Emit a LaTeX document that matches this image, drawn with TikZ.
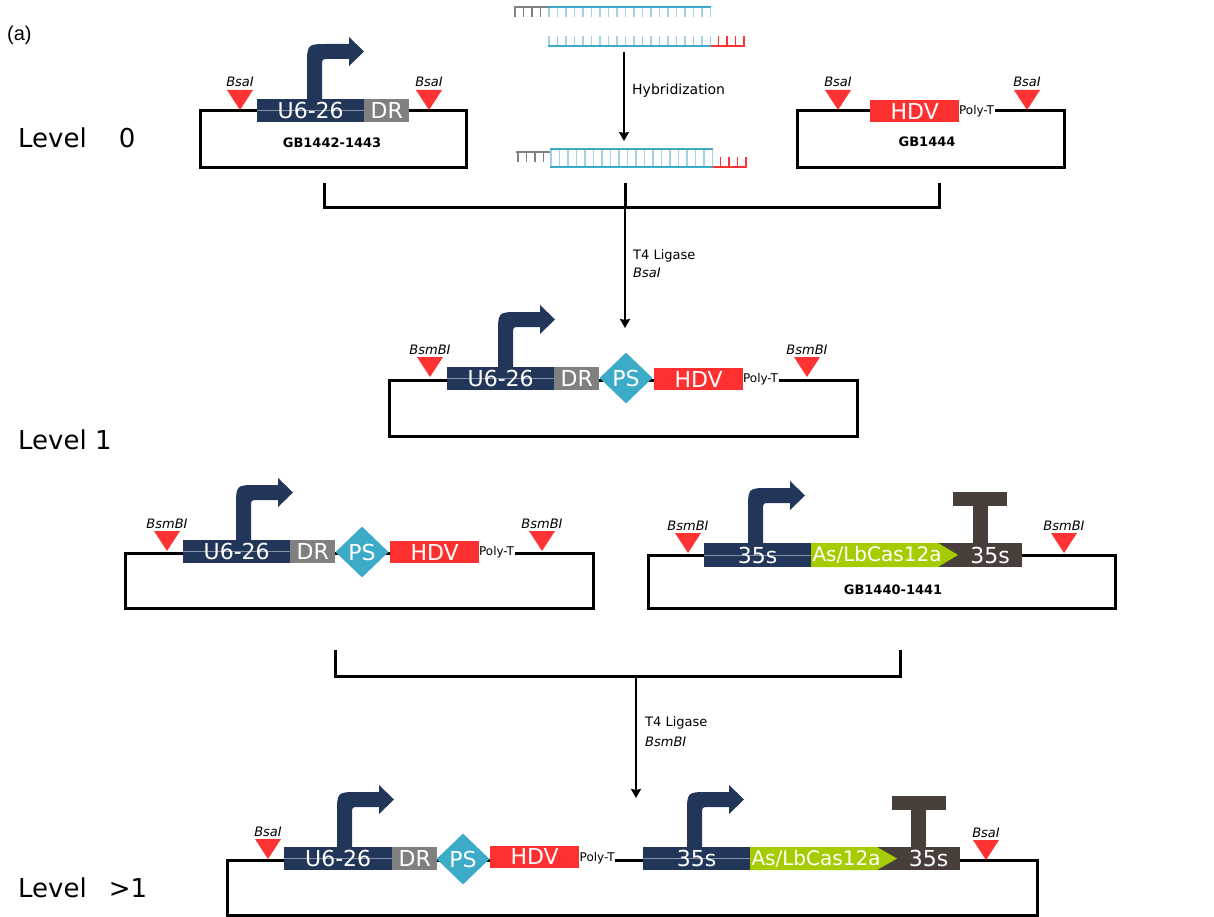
\documentclass[tikz,border=0pt]{standalone}
\usepackage{fontspec}
\setmainfont{DejaVu Sans}
\newfontfamily\arialfont{Liberation Sans}
\usetikzlibrary{shapes.geometric,arrows.meta}
\definecolor{navy}{RGB}{33,54,89}
\definecolor{drgrey}{RGB}{128,128,128}
\definecolor{hdvred}{RGB}{255,48,48}
\definecolor{cutred}{RGB}{255,51,51}
\definecolor{psteal}{RGB}{59,171,199}
\definecolor{cdsgreen}{RGB}{166,204,0}
\definecolor{termbrown}{RGB}{72,63,58}
\definecolor{dnateal}{RGB}{59,171,199}
\definecolor{dnalight}{RGB}{160,212,228}
% bent promoter arrow: stem left x, block top y
\newcommand{\promoter}[2]{%
  \fill[navy] (#1,#2) -- (#1,#2-33) .. controls (#1,#2-55) .. (#1+21,#2-55)
    -- (#1+42,#2-55) -- (#1+42,#2-62) -- (#1+57,#2-47.5) -- (#1+42,#2-33)
    -- (#1+42,#2-40) -- (#1+22,#2-40) .. controls (#1+15,#2-40) .. (#1+15,#2-33)
    -- (#1+15,#2) -- cycle;}
% terminator: centre x, block top y
\newcommand{\termin}[2]{%
  \fill[termbrown] (#1-27,#2-51) rectangle (#1+27,#2-37);
  \fill[termbrown] (#1-7.5,#2-37.5) rectangle (#1+7.5,#2);}
% restriction site: name, x, tip y, enzyme
\newcommand{\cutsite}[4]{%
  \fill[cutred] (#2-13,#3-20) -- (#2+13,#3-20) -- (#2,#3) -- cycle;
  \node[sitelbl] (#1) at (#2,#3-23) {#4};}
\begin{document}
\begin{tikzpicture}[x=1pt, y=-1pt,
    every node/.style={inner sep=0pt},
    blk/.style={anchor=west, text=white, minimum height=23, font=\fontsize{22}{24}\selectfont},
    u6/.style={blk, fill=navy, minimum width=107,
      path picture={\draw[navy!55!white, line width=0.6] (path picture bounding box.west) -- (path picture bounding box.east);}},
    dr/.style={blk, fill=drgrey, minimum width=45},
    hdv/.style={blk, fill=hdvred, minimum width=89, minimum height=22},
    ps/.style={shape=diamond, fill=psteal, text=white, minimum width=53, minimum height=51, font=\fontsize{22}{24}\selectfont},
    cds/.style={text=white, font=\fontsize{20}{22}\selectfont},
    polyt/.style={anchor=west, fill=white, inner sep=0.5pt, xshift=-1pt, font=\fontsize{12}{14}\selectfont},
    sitelbl/.style={anchor=base, font=\fontsize{13}{15}\selectfont\itshape},
    gb/.style={font=\fontsize{13}{15}\selectfont\bfseries},
    lvl/.style={anchor=west, font=\fontsize{26}{30}\selectfont},
    note/.style={anchor=west, font=\fontsize{13}{15}\selectfont},
    vec/.style={line width=3},
    brk/.style={line width=3},
    flow/.style={line width=1.9, -{Stealth[length=9pt,width=10pt,inset=1pt]}},
    dna/.style={line width=1.7},
    rung/.style={line width=1.1}]
  \useasboundingbox (0,0) rectangle (1214,917);

  \node[anchor=west, font=\arialfont\fontsize{20}{22}\selectfont] (tag) at (7,35) {(a)};
  \node[lvl] (lv0) at (18,138) {Level\hspace{32pt}0};
  \node[lvl] (lv1) at (18,440) {Level 1};
  \node[lvl] (lv2) at (18,888) {Level\hspace{22pt}>1};

  % oligos
  \draw[dna, drgrey] (514,7) -- (548,7);
  \foreach \x in {515,523.5,532,540.5} \draw[rung, drgrey] (\x,7) -- ++(0,10);
  \foreach \i in {0,...,19} \draw[rung, dnalight] ({549+8.5*\i},7) -- ++(0,10);
  \draw[dna, dnateal] (548,7) -- (711,7);
  \foreach \i in {0,...,19} \draw[rung, dnalight] ({549+8.5*\i},46) -- ++(0,-10);
  \draw[dna, dnateal] (548,46) -- (711,46);
  \foreach \x in {718.5,727,735.5,744} \draw[rung, cutred] (\x,46) -- ++(0,-10);
  \draw[dna, cutred] (711,46) -- (745,46);
  % hybridized
  \draw[dna, drgrey] (516,152) -- (550,152);
  \foreach \x in {518,526.5,535,543.5} \draw[rung, drgrey] (\x,152) -- ++(0,10);
  \foreach \i in {0,...,19} \draw[rung, dnalight] ({551+8.5*\i},149) -- ++(0,18);
  \draw[dna, dnateal] (550,149) -- (713,149);
  \draw[dna, dnateal] (550,167) -- (713,167);
  \foreach \x in {720.5,729,737.5,746} \draw[rung, cutred] (\x,167) -- ++(0,-10);
  \draw[dna, cutred] (713,167) -- (747,167);
  \coordinate (hyb1) at (624,52);
  \coordinate (hyb2) at (624,141);
  \draw[flow] (hyb1) -- (hyb2);
  \node[note, font=\fontsize{14}{16}\selectfont] (hyb) at (632,91) {Hybridization};

  % level 0, GB1442-1443
  \draw[vec] (200,111) rectangle (466,168);
  \promoter{307}{99}
  \node[u6] (u6a) at (257,110.5) {U6-26};
  \node[dr] (dra) at (364,110.5) {DR};
  \cutsite{bsa1}{240}{110}{BsaI}
  \cutsite{bsa2}{429}{110}{BsaI}
  \node[gb] (gba) at (332,143) {GB1442-1443};

  % level 0, GB1444
  \draw[vec] (797,111) rectangle (1064,168);
  \node[hdv] (hdva) at (870,111) {HDV};
  \node[polyt] (pta) at (hdva.east) {Poly-T};
  \cutsite{bsa3}{838}{110}{BsaI}
  \cutsite{bsa4}{1027}{110}{BsaI}
  \node[gb] (gbb) at (927,142) {GB1444};

  % first assembly
  \coordinate (ka) at (324,183);
  \coordinate (kb) at (939,183);
  \coordinate (kc) at (625,183);
  \coordinate (kd) at (625,208);
  \coordinate (ke) at (625,328);
  \draw[brk] (ka) |- (kb |- kd) -- (kb);
  \draw[brk] (kc) -- (kd);
  \draw[flow] (kd) -- (ke);
  \node[note] (liga) at (633,256) {T4 Ligase};
  \node[note, font=\fontsize{13}{15}\selectfont\itshape] (enza) at (633,273) {BsaI};

  % level 1, guide
  \draw[vec] (389,380) rectangle (857,436);
  \promoter{498}{367}
  \node[u6] (u6b) at (447,378.5) {U6-26};
  \node[dr] (drb) at (554,378.5) {DR};
  \node[ps] (psb) at (626,378) {PS};
  \node[hdv] (hdvb) at (654,379) {HDV};
  \node[polyt] (ptb) at (hdvb.east) {Poly-T};
  \cutsite{bsm1}{430}{377}{BsmBI}
  \cutsite{bsm2}{807}{377}{BsmBI}

  % level 1, guide copy
  \draw[vec] (125,553) rectangle (593,608);
  \promoter{236}{540}
  \node[u6] (u6c) at (183,551.5) {U6-26};
  \node[dr] (drc) at (290,551.5) {DR};
  \node[ps] (psc) at (362,552) {PS};
  \node[hdv] (hdvc) at (390,552) {HDV};
  \node[polyt] (ptc) at (hdvc.east) {Poly-T};
  \cutsite{bsm3}{167}{551}{BsmBI}
  \cutsite{bsm4}{542}{551}{BsmBI}

  % level 1, GB1440-1441
  \draw[vec] (648,555) rectangle (1115,608);
  \promoter{748}{543}
  \termin{980}{543}
  \node[u6, minimum height=24] (p35a) at (704,555) {35s};
  \fill[termbrown] (937,543) rectangle (959,567);
  \node[blk, fill=termbrown, minimum width=64, minimum height=24] (t35a) at (958,555) {35s};
  \fill[cdsgreen] (811,543) -- (938,543) -- (958,555) -- (938,567) -- (811,567) -- cycle;
  \node[cds] (casa) at (877,555) {As/LbCas12a};
  \cutsite{bsm5}{688}{553}{BsmBI}
  \cutsite{bsm6}{1064}{553}{BsmBI}
  \node[gb] (gbc) at (893,590) {GB1440-1441};

  % second assembly
  \coordinate (la) at (335,650);
  \coordinate (lb) at (900,650);
  \coordinate (ld) at (636,676);
  \coordinate (le) at (636,798);
  \draw[brk] (la) |- (lb |- ld) -- (lb);
  \draw[flow] (ld) -- (le);
  \node[note] (ligb) at (645,723) {T4 Ligase};
  \node[note, font=\fontsize{13}{15}\selectfont\itshape] (enzb) at (645,742) {BsmBI};

  % level >1
  \draw[vec] (227,860) rectangle (1037,915);
  \promoter{337}{847}
  \node[u6, minimum width=108] (u6d) at (284,858.5) {U6-26};
  \node[dr] (drd) at (392,858.5) {DR};
  \node[ps] (psd) at (463,859) {PS};
  \node[hdv] (hdvd) at (490,856.5) {HDV};
  \node[polyt] (ptd) at (580,858) {Poly-T};
  \promoter{687}{847}
  \termin{918.5}{847}
  \node[u6] (p35b) at (643,858.5) {35s};
  \fill[termbrown] (876,847) rectangle (898,870);
  \node[blk, fill=termbrown, minimum width=63] (t35b) at (897,858.5) {35s};
  \fill[cdsgreen] (750,847) -- (877,847) -- (897,858.5) -- (877,870) -- (750,870) -- cycle;
  \node[cds] (casb) at (816,858.5) {As/LbCas12a};
  \cutsite{bsa5}{268}{859}{BsaI}
  \cutsite{bsa6}{986}{860}{BsaI}
\end{tikzpicture}
\end{document}
